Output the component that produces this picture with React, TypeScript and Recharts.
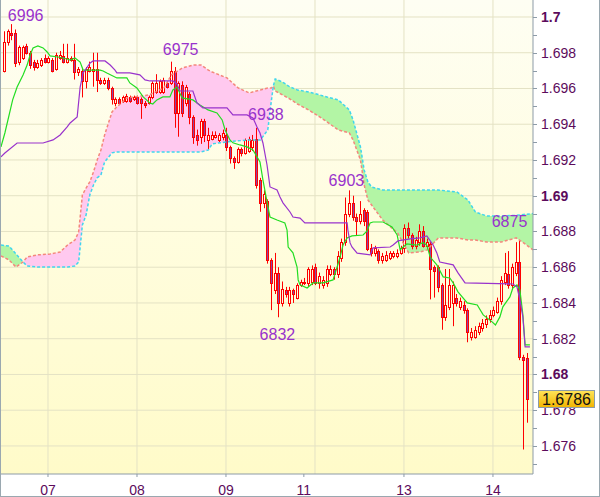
import React from "react";
import {
  Area,
  Bar,
  CartesianGrid,
  ComposedChart,
  Line,
  Scatter,
  XAxis,
  YAxis,
} from "recharts";

const FONT = "'Liberation Sans', Arial, sans-serif";
const AXIS = "#8d9ba7";

// hourly candles, index 1..142
const candleOpen = [
  1.6970, 1.6986, 1.6991, 1.6991, 1.6975, 1.6977, 1.6984, 1.6980, 1.6975, 1.6972,
  1.6973, 1.6977, 1.6975, 1.6976, 1.6971, 1.6977, 1.6978, 1.6975, 1.6977, 1.6976,
  1.6969, 1.6970, 1.6964, 1.6970, 1.6970, 1.6971, 1.6965, 1.6963, 1.6965, 1.6960,
  1.6952, 1.6954, 1.6953, 1.6953, 1.6955, 1.6954, 1.6955, 1.6954, 1.6952, 1.6952,
  1.6955, 1.6958, 1.6958, 1.6958, 1.6963, 1.6963, 1.6970, 1.6946, 1.6962, 1.6952,
  1.6957, 1.6944, 1.6934, 1.6933, 1.6942, 1.6931, 1.6932, 1.6933, 1.6931, 1.6933,
  1.6934, 1.6927, 1.6921, 1.6919, 1.6926, 1.6924, 1.6925, 1.6927, 1.6932, 1.6909,
  1.6896, 1.6897, 1.6864, 1.6847, 1.6857, 1.6840, 1.6847, 1.6840, 1.6847, 1.6843,
  1.6850, 1.6851, 1.6851, 1.6852, 1.6860, 1.6851, 1.6850, 1.6851, 1.6856, 1.6859,
  1.6856, 1.6865, 1.6874, 1.6890, 1.6896, 1.6888, 1.6886, 1.6892, 1.6891, 1.6871,
  1.6868, 1.6869, 1.6864, 1.6864, 1.6865, 1.6866, 1.6866, 1.6868, 1.6871, 1.6882,
  1.6878, 1.6872, 1.6874, 1.6880, 1.6872, 1.6873, 1.6860, 1.6860, 1.6850, 1.6832,
  1.6838, 1.6840, 1.6843, 1.6838, 1.6839, 1.6836, 1.6821, 1.6821, 1.6824, 1.6826,
  1.6828, 1.6831, 1.6833, 1.6835, 1.6841, 1.6852, 1.6856, 1.6850, 1.6857, 1.6863,
  1.6810, 1.6809,
];
const candleHigh = [
  1.6992, 1.6993, 1.6996, 1.6993, 1.6984, 1.6984, 1.6985, 1.6981, 1.6976, 1.6976,
  1.6977, 1.6979, 1.6978, 1.6977, 1.6980, 1.6981, 1.6985, 1.6985, 1.6978, 1.6985,
  1.6972, 1.6971, 1.6972, 1.6975, 1.6980, 1.6980, 1.6966, 1.6966, 1.6966, 1.6961,
  1.6955, 1.6955, 1.6956, 1.6957, 1.6956, 1.6956, 1.6956, 1.6955, 1.6953, 1.6956,
  1.6964, 1.6968, 1.6965, 1.6966, 1.6964, 1.6975, 1.6972, 1.6964, 1.6964, 1.6962,
  1.6958, 1.6945, 1.6937, 1.6943, 1.6943, 1.6938, 1.6936, 1.6936, 1.6935, 1.6937,
  1.6938, 1.6928, 1.6922, 1.6927, 1.6927, 1.6932, 1.6933, 1.6934, 1.6938, 1.6910,
  1.6903, 1.6898, 1.6865, 1.6868, 1.6860, 1.6852, 1.6849, 1.6849, 1.6848, 1.6851,
  1.6853, 1.6854, 1.6860, 1.6861, 1.6862, 1.6857, 1.6855, 1.6861, 1.6861, 1.6860,
  1.6869, 1.6876, 1.6899, 1.6903, 1.6900, 1.6890, 1.6897, 1.6893, 1.6892, 1.6873,
  1.6872, 1.6870, 1.6868, 1.6869, 1.6869, 1.6869, 1.6870, 1.6872, 1.6884, 1.6885,
  1.6879, 1.6877, 1.6884, 1.6883, 1.6876, 1.6874, 1.6861, 1.6861, 1.6851, 1.6859,
  1.6859, 1.6852, 1.6845, 1.6843, 1.6841, 1.6837, 1.6826, 1.6827, 1.6829, 1.6831,
  1.6833, 1.6836, 1.6838, 1.6843, 1.6855, 1.6868, 1.6869, 1.6862, 1.6874, 1.6875,
  1.6811, 1.6812,
];
const candleLow = [
  1.6969, 1.6984, 1.6987, 1.6972, 1.6973, 1.6976, 1.6979, 1.6971, 1.6970, 1.6971,
  1.6972, 1.6974, 1.6974, 1.6969, 1.6970, 1.6976, 1.6974, 1.6974, 1.6975, 1.6965,
  1.6967, 1.6955, 1.6960, 1.6969, 1.6961, 1.6958, 1.6962, 1.6962, 1.6959, 1.6951,
  1.6950, 1.6951, 1.6952, 1.6952, 1.6952, 1.6953, 1.6951, 1.6943, 1.6949, 1.6951,
  1.6954, 1.6957, 1.6957, 1.6957, 1.6960, 1.6962, 1.6938, 1.6933, 1.6944, 1.6950,
  1.6940, 1.6929, 1.6928, 1.6929, 1.6930, 1.6926, 1.6931, 1.6932, 1.6930, 1.6931,
  1.6925, 1.6918, 1.6915, 1.6918, 1.6922, 1.6923, 1.6924, 1.6925, 1.6904, 1.6891,
  1.6893, 1.6862, 1.6836, 1.6845, 1.6832, 1.6838, 1.6843, 1.6838, 1.6840, 1.6842,
  1.6849, 1.6850, 1.6849, 1.6850, 1.6850, 1.6848, 1.6848, 1.6849, 1.6855, 1.6853,
  1.6854, 1.6863, 1.6872, 1.6888, 1.6886, 1.6878, 1.6884, 1.6883, 1.6869, 1.6866,
  1.6866, 1.6862, 1.6862, 1.6863, 1.6864, 1.6865, 1.6865, 1.6867, 1.6868, 1.6876,
  1.6870, 1.6870, 1.6872, 1.6871, 1.6870, 1.6842, 1.6843, 1.6846, 1.6825, 1.6830,
  1.6836, 1.6827, 1.6838, 1.6836, 1.6834, 1.6818, 1.6819, 1.6820, 1.6822, 1.6824,
  1.6826, 1.6829, 1.6832, 1.6834, 1.6839, 1.6850, 1.6848, 1.6848, 1.6855, 1.6808,
  1.6758, 1.6773,
];
const candleClose = [
  1.6986, 1.6992, 1.6990, 1.6974, 1.6983, 1.6983, 1.6980, 1.6973, 1.6972, 1.6974,
  1.6976, 1.6975, 1.6977, 1.6970, 1.6979, 1.6979, 1.6975, 1.6977, 1.6976, 1.6969,
  1.6971, 1.6964, 1.6971, 1.6972, 1.6971, 1.6965, 1.6963, 1.6965, 1.6960, 1.6954,
  1.6954, 1.6952, 1.6955, 1.6956, 1.6953, 1.6955, 1.6952, 1.6952, 1.6951, 1.6955,
  1.6963, 1.6963, 1.6964, 1.6965, 1.6961, 1.6970, 1.6946, 1.6963, 1.6946, 1.6961,
  1.6944, 1.6933, 1.6931, 1.6942, 1.6934, 1.6934, 1.6934, 1.6934, 1.6934, 1.6935,
  1.6927, 1.6921, 1.6919, 1.6926, 1.6924, 1.6931, 1.6932, 1.6931, 1.6906, 1.6896,
  1.6901, 1.6864, 1.6851, 1.6857, 1.6840, 1.6848, 1.6845, 1.6847, 1.6845, 1.6850,
  1.6852, 1.6852, 1.6859, 1.6859, 1.6851, 1.6855, 1.6853, 1.6859, 1.6859, 1.6856,
  1.6866, 1.6874, 1.6890, 1.6896, 1.6888, 1.6886, 1.6890, 1.6886, 1.6870, 1.6868,
  1.6871, 1.6864, 1.6866, 1.6867, 1.6868, 1.6868, 1.6868, 1.6871, 1.6882, 1.6878,
  1.6872, 1.6875, 1.6880, 1.6872, 1.6874, 1.6859, 1.6858, 1.6849, 1.6832, 1.6839,
  1.6850, 1.6850, 1.6840, 1.6841, 1.6836, 1.6824, 1.6824, 1.6825, 1.6827, 1.6829,
  1.6831, 1.6833, 1.6836, 1.6841, 1.6853, 1.6857, 1.6850, 1.6860, 1.6863, 1.6810,
  1.6808, 1.6786,
];
const lastPrice = 1.6786;

// tenkan-sen (green) and kijun-sen (purple), polyline vertices
const tenkanIdx = [
  0.05, 1.1, 3.2, 4.4, 6.0, 7.1, 7.9, 8.7, 10.0, 11.4, 12.5, 13.3, 15.4, 17.9, 18.7,
  20.0, 21.4, 22.2, 26.8, 27.6, 28.6, 31.3, 34.0, 34.8, 36.7, 38.4, 40.2, 41.0, 42.1,
  43.7, 45.6, 46.4, 47.5, 48.9, 51.8, 53.7, 55.9, 58.3, 59.7, 60.5, 61.8, 62.6, 64.5,
  66.4, 68.0, 69.9, 70.7, 71.8, 72.6, 74.5, 76.6, 77.2, 77.5, 78.8, 79.9, 80.2, 80.7,
  82.6, 84.2, 86.9, 89.6, 90.7, 91.5, 92.3, 93.4, 94.7, 97.7, 98.8, 99.6, 100.4, 103.1,
  105.5, 106.9, 107.7, 108.5, 109.5, 112.2, 113.9, 114.9, 115.8, 117.6, 119.3, 121.1,
  122.0, 123.3, 125.8, 128.5, 130.1, 132.5, 133.4, 134.6, 135.4, 137.3, 138.1, 139.2,
  140.0, 140.8, 141.4, 142.7,
];
const tenkanVal = [
  1.69273, 1.69351, 1.69536, 1.69608, 1.69676, 1.69731, 1.69787, 1.69827, 1.69838,
  1.69827, 1.69804, 1.69782, 1.69776, 1.69765, 1.69759, 1.69771, 1.69748, 1.69703,
  1.69703, 1.69698, 1.69687, 1.69659, 1.69659, 1.69631, 1.69603, 1.69553, 1.69519,
  1.69513, 1.69536, 1.69553, 1.69553, 1.69592, 1.69608, 1.69547, 1.69536, 1.69508,
  1.6948, 1.69463, 1.69424, 1.69368, 1.69312, 1.69296, 1.69284, 1.69273, 1.69256,
  1.69189, 1.69088, 1.68965, 1.68881, 1.68864, 1.68848, 1.68808, 1.68713, 1.6868,
  1.68601, 1.68529, 1.68501, 1.68484, 1.68512, 1.68512, 1.68529, 1.68601, 1.68657,
  1.68724, 1.68764, 1.68775, 1.6878, 1.68803, 1.68848, 1.68853, 1.68853, 1.68825,
  1.6878, 1.68697, 1.68713, 1.6873, 1.68724, 1.68737, 1.68724, 1.68657, 1.68613,
  1.68546, 1.6854, 1.68512, 1.68462, 1.684, 1.68389, 1.68333, 1.68294, 1.68277,
  1.68322, 1.68378, 1.68434, 1.68484, 1.68501, 1.68473, 1.68333, 1.68165, 1.68165,
];
const kijunIdx = [
  0.05, 1.1, 4.4, 11.4, 14.1, 16.0, 17.9, 18.7, 20.6, 21.4, 22.2, 24.1, 24.9, 28.1,
  29.5, 30.8, 31.3, 34.8, 37.5, 38.9, 40.2, 46.4, 47.5, 48.3, 51.8, 52.9, 54.5, 61.0,
  62.6, 66.4, 68.0, 69.1, 69.9, 70.7, 71.8, 72.6, 74.5, 75.3, 76.1, 78.0, 78.8, 80.7,
  82.0, 93.4, 93.6, 94.2, 94.7, 96.1, 99.6, 100.4, 105.0, 105.8, 107.1, 110.4, 113.0,
  114.9, 116.6, 117.6, 118.4, 122.0, 123.3, 125.2, 138.1, 139.2, 140.0, 140.8, 141.4,
  142.7,
];
const kijunVal = [
  1.69217, 1.69239, 1.69295, 1.69295, 1.69312, 1.6934, 1.69385, 1.69407, 1.69441,
  1.69608, 1.69687, 1.69743, 1.69754, 1.69754, 1.69731, 1.69703, 1.69687, 1.69687,
  1.69676, 1.69648, 1.69642, 1.69642, 1.69625, 1.69586, 1.69586, 1.69519, 1.69491,
  1.69491, 1.69452, 1.69452, 1.69435, 1.69385, 1.69351, 1.69295, 1.69172, 1.69049,
  1.69032, 1.68993, 1.6896, 1.68909, 1.68881, 1.68875, 1.68848, 1.68848, 1.68808,
  1.68736, 1.68713, 1.68679, 1.68669, 1.68708, 1.68713, 1.68724, 1.68747, 1.68758,
  1.68764, 1.68775, 1.68724, 1.6868, 1.68629, 1.68613, 1.68568, 1.68512, 1.68506,
  1.6849, 1.68417, 1.68322, 1.68154, 1.68154,
];

// kumo: senkou span A (cyan) and span B (salmon)
const cloudIdx = [
  0.05, 2.2, 4.1, 6.0, 7.1, 10, 13.3, 16, 18, 20, 21, 22, 23, 24, 25, 26, 27, 28, 30,
  31, 34, 40, 44, 46, 49, 52, 54, 56, 57, 61, 64, 67, 70, 72, 73, 73.5, 74, 76, 78, 80,
  83, 86, 88, 91, 94, 95, 97, 98, 99, 100, 103, 107, 110, 113, 115, 118, 123, 126, 128,
  131, 135, 139, 141, 143.53,
];
const spanA = [
  1.68724, 1.68718, 1.68674, 1.68629, 1.68607, 1.68601, 1.68601, 1.68601, 1.68601,
  1.68607, 1.68629, 1.68836, 1.68892, 1.69004, 1.6906, 1.691, 1.69116, 1.69189,
  1.6924, 1.69245, 1.69245, 1.69245, 1.69245, 1.69245, 1.69245, 1.69245, 1.69245,
  1.69256, 1.6929, 1.69301, 1.69307, 1.69312, 1.69312, 1.69368, 1.69536, 1.69614,
  1.69653, 1.69636, 1.69608, 1.69592, 1.6958, 1.69564, 1.69552, 1.69536, 1.6948,
  1.69424, 1.69273, 1.69144, 1.69077, 1.69049, 1.69032, 1.69032, 1.69032, 1.69032,
  1.69032, 1.69032, 1.69021, 1.68976, 1.68909, 1.68887, 1.68887, 1.6889, 1.68895,
  1.689,
];
const spanB = [
  1.68663, 1.68641, 1.68601, 1.68629, 1.68657, 1.68669, 1.68674, 1.68685, 1.68724,
  1.68752, 1.68797, 1.69004, 1.69043, 1.69077, 1.69133, 1.692, 1.69256, 1.6934,
  1.69469, 1.69491, 1.69547, 1.69564, 1.69603, 1.69676, 1.69715, 1.69731, 1.69731,
  1.69703, 1.69692, 1.69659, 1.69603, 1.69575, 1.69592, 1.69603, 1.69603, 1.69614,
  1.69586, 1.69564, 1.69541, 1.69513, 1.6948, 1.69441, 1.69413, 1.69368, 1.69351,
  1.69312, 1.692, 1.6906, 1.68976, 1.68948, 1.68864, 1.68792, 1.6868, 1.68685,
  1.68697, 1.68764, 1.68764, 1.68752, 1.68752, 1.68741, 1.68741, 1.68764, 1.68736,
  1.68697,
];

const swingLabels = [
  { i: 6.7, p: 1.69978, t: "6996" },
  { i: 48.5, p: 1.69787, t: "6975" },
  { i: 71.5, p: 1.69424, t: "6938" },
  { i: 93.2, p: 1.69055, t: "6903" },
  { i: 137.2, p: 1.68825, t: "6875" },
  { i: 74.6, p: 1.68193, t: "6832" },
];

const dayTicks = [12.73, 36.73, 60.73, 81.73, 108.73, 132.73];
const dayLabels = ["07", "08", "09", "11", "13", "14"];
const dayGrid = [12.73, 36.73, 60.73, 84.73, 108.73, 132.73];

const priceTicks = [
  1.675, 1.676, 1.677, 1.678, 1.679, 1.68, 1.681, 1.682, 1.683, 1.684, 1.685, 1.686,
  1.687, 1.688, 1.689, 1.69, 1.691, 1.692, 1.693, 1.694, 1.695, 1.696, 1.697, 1.698,
  1.699, 1.7,
];
const priceLabels = [
  "", "1.676", "", "1.678", "", "1.68", "", "1.682", "", "1.684", "", "1.686", "",
  "1.688", "", "1.69", "", "1.692", "", "1.694", "", "1.696", "", "1.698", "", "1.7",
];
const boldLabels = ["1.7", "1.69", "1.68"];
const gridPrices = [
  1.676, 1.678, 1.68, 1.682, 1.684, 1.686, 1.688, 1.69, 1.692, 1.694, 1.696, 1.698, 1.7,
];

const candles = candleOpen.map((o, k) => ({
  i: k + 1,
  o,
  h: candleHigh[k],
  l: candleLow[k],
  c: candleClose[k],
}));
const tenkan = tenkanIdx.map((i, k) => ({ i, v: tenkanVal[k] }));
const kijun = kijunIdx.map((i, k) => ({ i, v: kijunVal[k] }));
const cloud = cloudIdx.map((i, k) => {
  const a = spanA[k];
  const b = spanB[k];
  return {
    i,
    a,
    b,
    pink: b >= a ? [a, b] : [a, a],
    green: a >= b ? [b, a] : [b, b],
  };
});

function Candle(props: any) {
  const { x, y, width, height, payload } = props;
  if (!payload || x == null) return null;
  const { o, h, l, c } = payload;
  const top = Math.min(y, y + height);
  const px = Math.abs(height);
  const k = h > l ? px / (h - l) : 0;
  const yo = top + (h - o) * k;
  const yc = top + (h - c) * k;
  const cx = Math.floor(x + width / 2) + 0.5;
  const bTop = Math.round(Math.min(yo, yc)) + 0.5;
  const bBot = Math.max(bTop + 1, Math.round(Math.max(yo, yc)) + 0.5);
  const bull = c >= o;
  return (
    <g>
      <line x1={cx} x2={cx} y1={top} y2={top + px} stroke="#ff0000" strokeWidth={1} />
      <rect
        x={cx - 1}
        y={bTop}
        width={2}
        height={bBot - bTop}
        fill={bull ? "#fffbe0" : "#8b45a6"}
        stroke="#ff0000"
        strokeWidth={1}
      />
    </g>
  );
}

function SwingLabel(props: any) {
  const { cx, cy, payload } = props;
  return (
    <text x={cx} y={cy} textAnchor="middle" fontSize={16} fill="#9933cc" fontFamily={FONT}>
      {payload.t}
    </text>
  );
}

function DayTick(props: any) {
  const { x, y, payload } = props;
  const k = dayTicks.indexOf(payload.value);
  return (
    <text x={x} y={y + 16} textAnchor="middle" fontSize={14} fill="#5c0b5c" fontFamily={FONT}>
      {dayLabels[k]}
    </text>
  );
}

function PriceTick(props: any) {
  const { x, y, payload } = props;
  const v = payload.value;
  if (v === lastPrice) {
    return (
      <g>
        <defs>
          <linearGradient id="goldBox" x1="0" y1="0" x2="0" y2="1">
            <stop offset="0" stopColor="#ffe45a" />
            <stop offset="1" stopColor="#f2b400" />
          </linearGradient>
        </defs>
        <rect
          x={x + 5.5}
          y={Math.round(y) - 8.5}
          width={56}
          height={17}
          fill="url(#goldBox)"
          stroke={AXIS}
        />
        <text x={x + 9} y={y + 6} fontSize={16} fill="#111" fontFamily={FONT}>
          {lastPrice.toFixed(4)}
        </text>
      </g>
    );
  }
  const k = priceTicks.indexOf(v);
  const label = priceLabels[k];
  const ly = Math.round(y) + 0.5;
  return (
    <g>
      <line x1={x} x2={x + 4} y1={ly} y2={ly} stroke={AXIS} />
      {label ? (
        <text
          x={x + 8}
          y={y + 5}
          fontSize={14}
          fontWeight={boldLabels.includes(label) ? "bold" : "normal"}
          fill="#5c0b5c"
          fontFamily={FONT}
        >
          {label}
        </text>
      ) : null}
    </g>
  );
}

export default function App() {
  return (
    <div
      style={{
        position: "absolute",
        left: 0,
        top: 0,
        width: 600,
        height: 497,
        background: "#ffffff",
        overflow: "hidden",
      }}
    >
      <div
        style={{
          position: "absolute",
          left: 1,
          top: 0,
          width: 532,
          height: 474,
          background: "linear-gradient(180deg, #fefef3 0%, #fffde0 45%, #fffbc9 100%)",
        }}
      />
      <div style={{ position: "absolute", left: 0, top: 0 }}>
        <ComposedChart
          width={600}
          height={497}
          data={candles}
          margin={{ top: 0, right: 0, bottom: 0, left: 1 }}
        >
          <CartesianGrid
            horizontalValues={gridPrices}
            verticalValues={dayGrid}
            stroke="#e4e2c4"
            strokeWidth={1}
          />
          <XAxis
            dataKey="i"
            type="number"
            domain={[0.055, 143.53]}
            allowDataOverflow
            ticks={dayTicks}
            interval={0}
            tick={<DayTick />}
            tickSize={3}
            tickLine={{ stroke: AXIS }}
            axisLine={{ stroke: AXIS }}
            height={23}
          />
          <YAxis
            orientation="right"
            type="number"
            domain={[1.67443, 1.70095]}
            allowDataOverflow
            ticks={[...priceTicks, lastPrice]}
            interval={0}
            tick={<PriceTick />}
            tickLine={false}
            tickSize={0}
            tickMargin={0}
            axisLine={{ stroke: AXIS }}
            width={67}
          />
          <Area
            data={cloud}
            dataKey="pink"
            type="linear"
            fill="#ffc9ef"
            fillOpacity={1}
            stroke="none"
            isAnimationActive={false}
          />
          <Area
            data={cloud}
            dataKey="green"
            type="linear"
            fill="#b3f5a5"
            fillOpacity={1}
            stroke="none"
            isAnimationActive={false}
          />
          <Line
            data={cloud}
            dataKey="b"
            type="linear"
            stroke="#f4877c"
            strokeWidth={1.5}
            strokeDasharray="3 2"
            dot={false}
            activeDot={false}
            isAnimationActive={false}
          />
          <Line
            data={cloud}
            dataKey="a"
            type="linear"
            stroke="#3fd6ee"
            strokeWidth={1.5}
            strokeDasharray="3 2"
            dot={false}
            activeDot={false}
            isAnimationActive={false}
          />
          <Line
            data={tenkan}
            dataKey="v"
            type="linear"
            stroke="#22dd22"
            strokeWidth={1.2}
            dot={false}
            activeDot={false}
            isAnimationActive={false}
          />
          <Line
            data={kijun}
            dataKey="v"
            type="linear"
            stroke="#9933cc"
            strokeWidth={1.2}
            dot={false}
            activeDot={false}
            isAnimationActive={false}
          />
          <Bar
            dataKey={(d: any) => [d.l, d.h]}
            barSize={3}
            shape={<Candle />}
            isAnimationActive={false}
          />
          <Scatter
            data={swingLabels}
            dataKey="p"
            shape={<SwingLabel />}
            isAnimationActive={false}
          />
        </ComposedChart>
      </div>
      <div
        style={{
          position: "absolute",
          left: 0,
          top: 0,
          width: 600,
          height: 497,
          boxSizing: "border-box",
          borderLeft: "1px solid #9aa8b0",
          borderRight: "1px solid #9aa8b0",
          borderBottom: "1px solid #9aa8b0",
          pointerEvents: "none",
        }}
      />
    </div>
  );
}
